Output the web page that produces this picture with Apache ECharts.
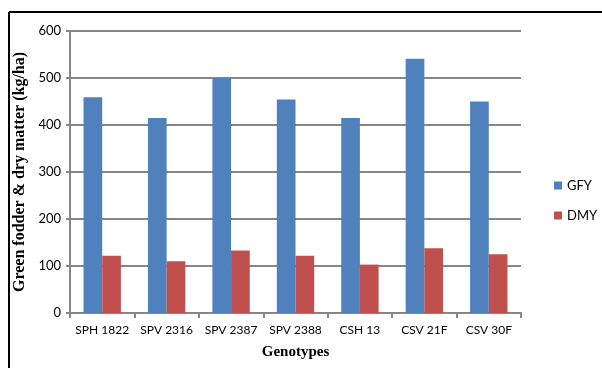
<!DOCTYPE html>
<html>
<head>
<meta charset="utf-8">
<script src="https://cdn.jsdelivr.net/npm/echarts@6/dist/echarts.min.js"></script>
<style>html,body{margin:0;padding:0;background:#fff}#c{width:602px;height:368px}</style>
</head>
<body>
<div id="c"></div>
<script>
const categories = ['SPH 1822', 'SPV 2316', 'SPV 2387', 'SPV 2388', 'CSH 13', 'CSV 21F', 'CSV 30F'];
const gfy = [459, 415, 500, 454, 415, 541, 450];
const dmy = [122, 110, 133, 122, 103, 138, 125];
const yTicks = [0, 100, 200, 300, 400, 500, 600];

const chart = echarts.init(document.getElementById('c'), null, {renderer: 'canvas'});
const labelFont = 'Lato, "Open Sans", sans-serif';
chart.setOption({
  animation: false,
  backgroundColor: '#fff',
  graphic: [
    {type: 'line', shape: {x1: 9, y1: 12, x2: 602, y2: 12}, style: {stroke: '#000', lineWidth: 2}},
    {type: 'line', shape: {x1: 9, y1: 12, x2: 9, y2: 368}, style: {stroke: '#000', lineWidth: 2}}
  ],
  grid: {left: 70, right: 81, top: 31, bottom: 55},
  legend: {
    orient: 'vertical', left: 549, top: 174, itemWidth: 8, itemHeight: 8, itemGap: 17,
    icon: 'rect',
    textStyle: {fontFamily: labelFont, fontSize: 13, color: '#000', padding: [0, 0, 0, 0]},
    data: ['GFY', 'DMY']
  },
  xAxis: {
    type: 'category', data: categories,
    name: 'Genotypes', nameLocation: 'middle', nameGap: 32,
    nameTextStyle: {fontFamily: '"Liberation Serif", serif', fontWeight: 'bold', fontSize: 15, color: '#000'},
    axisLine: {lineStyle: {color: '#868686', width: 2}},
    axisTick: {show: true, length: 5, lineStyle: {color: '#868686', width: 2}, alignWithLabel: false},
    axisLabel: {fontFamily: labelFont, fontSize: 12, color: '#000', margin: 11, interval: 0}
  },
  yAxis: {
    type: 'value', min: 0, max: 600, interval: 100,
    name: 'Green fodder & dry matter (kg/ha)', nameLocation: 'middle', nameGap: 35,
    nameTextStyle: {fontFamily: '"Liberation Serif", serif', fontWeight: 'bold', fontSize: 16, color: '#000'},
    axisLine: {show: true, lineStyle: {color: '#868686', width: 2}},
    axisTick: {show: true, length: 4, lineStyle: {color: '#868686', width: 2}},
    axisLabel: {fontFamily: labelFont, fontSize: 13, color: '#000', margin: 9,
      formatter: v => yTicks.includes(v) ? String(v) : ''},
    splitLine: {lineStyle: {color: '#868686', width: 2}}
  },
  series: [
    {name: 'GFY', type: 'bar', data: gfy, barGap: '0%', barCategoryGap: '42%',
     itemStyle: {color: '#4f81bd'}},
    {name: 'DMY', type: 'bar', data: dmy, barGap: '0%', barCategoryGap: '42%',
     itemStyle: {color: '#c0504d'}}
  ]
});
</script>
</body>
</html>
